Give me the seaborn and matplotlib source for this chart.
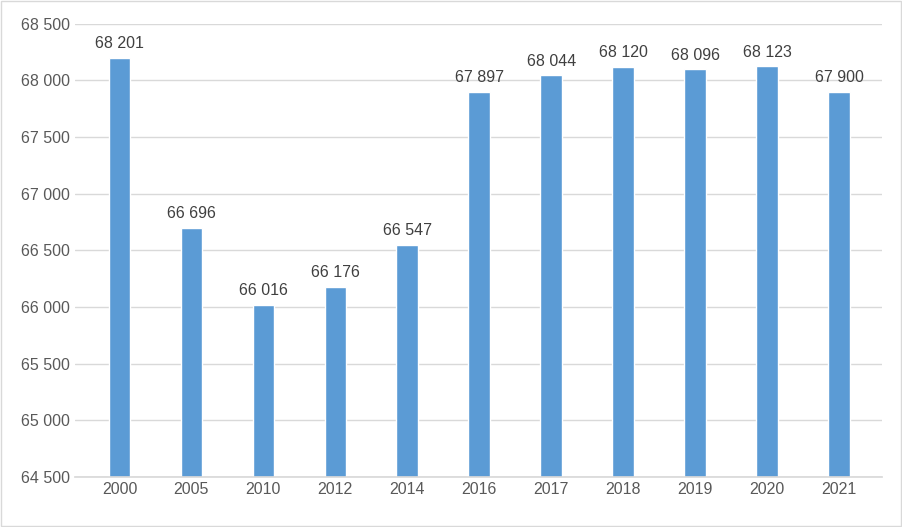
import pandas as pd
import seaborn as sns
import matplotlib.pyplot as plt
from matplotlib.ticker import FuncFormatter
from matplotlib.patches import Rectangle

years = ["2000", "2005", "2010", "2012", "2014", "2016", "2017", "2018", "2019", "2020", "2021"]
values = [68201, 66696, 66016, 66176, 66547, 67897, 68044, 68120, 68096, 68123, 67900]

df = pd.DataFrame({"year": years, "value": values})

sns.set_theme(style="white", font="Liberation Sans")
fig = plt.figure(figsize=(9.02, 5.27), dpi=100)
ax = fig.add_axes([0.083, 0.095, 0.895, 0.86])

sns.barplot(data=df, x="year", y="value", color="#5B9BD5", width=0.3, ax=ax, saturation=1)

ax.set_xlim(-0.62, 10.6)
ax.set_ylim(64500, 68500)
ax.set_yticks(range(64500, 68501, 500))
fmt = lambda v, p: f"{int(v):,}".replace(",", " ")
ax.yaxis.set_major_formatter(FuncFormatter(fmt))
ax.grid(axis="y", color="#D9D9D9", linewidth=1)
ax.set_axisbelow(True)
for s in ["top", "right", "left"]:
    ax.spines[s].set_visible(False)
ax.spines["bottom"].set_color("#D9D9D9")
ax.tick_params(axis="both", colors="#595959", labelsize=11.5, length=0)
ax.set_xlabel("")
ax.set_ylabel("")

for i, v in enumerate(values):
    ax.text(i, v + 60, fmt(v, None), ha="center", va="bottom", fontsize=11.5, color="#404040")

fig.patches.append(Rectangle((0.001, 0.001), 0.998, 0.998, transform=fig.transFigure,
                             fill=False, edgecolor="#D9D9D9", linewidth=1))

fig.savefig("out.png", dpi=100)
